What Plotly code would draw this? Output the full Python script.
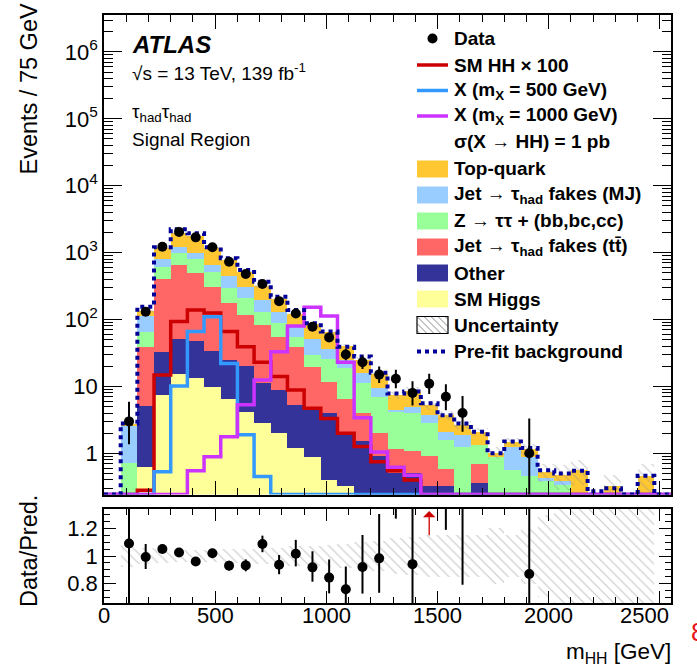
import numpy as np
import plotly.graph_objects as go

# ---------------- data (bins of 75 GeV from 0 to 2550 GeV) ----------------
bin_edges = np.arange(0, 2551, 75)

sm_higgs = [0, 0, 0.63, 7.4, 15.3, 13.2, 9.9, 6.5, 4.2, 2.8, 2.0, 1.19, 0.89, 0.4, 0.32, 0.2, 0.15,
            0.1, 0.05, 0.03, 0.02, 0, 0, 0, 0, 0, 0, 0, 0, 0, 0, 0, 0, 0]
other = [0, 0, 4.47, 25.6, 36.7, 34.8, 24.1, 18.3, 15.8, 8.6, 6.8, 4.1, 3.5, 3.6, 1.68, 1.3, 0.75,
         0.4, 0.45, 0.29, 0.3, 0.05, 0.36, 0, 0, 0, 0, 0, 0, 0, 0, 0, 0, 0]
fakes_tt = [0, 0, 33.9, 370, 601, 452, 269, 150, 97, 71.6, 46, 33.7, 15.3, 7.8, 4.4, 2.5, 1.1,
            0.66, 0.6, 0.59, 0.26, 0.05, 0.33, 0.25, 0, 0, 0, 0, 0, 0, 0, 0, 0, 0]
ztautau = [0, 0.71, 27, 213, 324, 294, 215, 118, 90, 48, 33, 16, 9.3, 14.2, 12.2, 7.4, 5.0,
           2.94, 2.95, 1.89, 1.0, 1.13, 0.64, 0.62, 0.56, 0.46, 0.38, 0.34, 0.05, 0, 0, 0, 0, 0]
fakes_mj = [0, 1.89, 46, 178, 223, 202, 135, 154, 102, 64, 43, 21, 22, 10, 6.4, 4.6, 2.4,
            0.4, 0.85, 0.9, 0.52, 0.65, 0.02, 0, 0.67, 0.41, 0.04, 0.04, 0, 0, 0, 0, 0, 0]
top_quark = [0, 0.15, 20, 372, 790, 764, 523, 339, 205, 117, 70, 45, 34, 28, 14.5, 9, 5.86,
             2.9, 3.6, 1.6, 1.6, 0.77, 0.75, 0.15, 0.26, 0.28, 0.11, 0.09, 0.51, 0.1, 0.32, 0.05, 0.46, 0]

data_obs = [0, 3, 131, 1225, 2040, 1690, 1200, 731, 479, 339, 188, 123, 78, 54, 30, 23, 15,
            13, 8, 11, 7, 4, 0, 0, 0, 1, 0, 0, 0, 0, 0, 0, 0, 0]
data_err_lo = [0, 1.63, 11.4, 35, 45.2, 41.1, 34.6, 27, 21.9, 18.4, 13.7, 11.1, 8.8, 7.3, 5.5, 4.8, 3.8,
               3.6, 2.8, 3.3, 2.6, 1.9, 0, 0, 0, 0.83, 0, 0, 0, 0, 0, 0, 0, 0]
data_err_hi = [0, 2.92, 12.5, 35.5, 45.7, 41.6, 35.1, 27.5, 22.4, 18.9, 14.2, 12.1, 9.9, 8.4, 6.5, 5.8, 4.9,
               4.7, 3.9, 4.4, 3.8, 3.2, 0, 0, 0, 2.3, 0, 0, 0, 0, 0, 0, 0, 0]

prefit_bkg = [0, 2.8, 155, 1200, 2230, 1945, 1200, 822, 550, 367, 219, 139, 88, 66, 39, 28, 16,
              7.8, 8.4, 5.6, 3.7, 2.8, 2.1, 1.0, 1.5, 1.2, 0.56, 0.5, 0.55, 0.27, 0.3, 0.2, 0.46, 0]

sig_smhh_x100 = [0, 0, 0.28, 14.8, 93, 139, 125, 66, 39, 23, 14, 8.8, 4.7, 3.3, 2.0, 1.26, 0.75,
                 0.55, 0.4, 0, 0, 0, 0, 0, 0, 0, 0, 0, 0, 0, 0, 0, 0, 0]
sig_x500 = [0, 0, 0, 0.53, 10.1, 66, 110, 22, 1.9, 0.45, 0.2, 0, 0, 0, 0, 0, 0,
            0, 0, 0, 0, 0, 0, 0, 0, 0, 0, 0, 0, 0, 0, 0, 0, 0]
sig_x1000 = [0, 0, 0, 0, 0, 0.55, 0.89, 1.77, 5.3, 12.5, 33, 80, 152, 113, 23, 3.4, 1.05,
             0.62, 0.47, 0, 0, 0, 0, 0, 0, 0, 0, 0, 0, 0, 0, 0, 0, 0]

rel_unc = [0, 0.08, 0.06, 0.05, 0.045, 0.045, 0.045, 0.05, 0.05, 0.055, 0.06, 0.07, 0.075, 0.08, 0.09, 0.1, 0.11,
           0.13, 0.14, 0.15, 0.15, 0.15, 0.15, 0.2, 0.15, 0.2, 0.3, 0.4, 0.4, 0.5, 0.5, 0.5, 0.5, 0]

main_ytick_vals = [1, 10, 100, 1e3, 1e4, 1e5, 1e6]
main_ytick_text = ["1", "10", "10<sup>2</sup>", "10<sup>3</sup>", "10<sup>4</sup>", "10<sup>5</sup>", "10<sup>6</sup>"]
ratio_ytick_vals = [0.8, 1.0, 1.2]
ratio_ytick_text = ["0.8", "1", "1.2"]
xtick_vals = [0, 500, 1000, 1500, 2000, 2500]
xtick_text = ["0", "500", "1000", "1500", "2000", "2500"]

legend_labels = ["Data", "SM HH \u00d7 100", "X (m<sub>X</sub> = 500 GeV)", "X (m<sub>X</sub> = 1000 GeV)",
                 "\u03c3(X \u2192 HH) = 1 pb", "Top-quark", "Jet \u2192 \u03c4<sub>had</sub> fakes (MJ)",
                 "Z \u2192 \u03c4\u03c4 + (bb,bc,cc)", "Jet \u2192 \u03c4<sub>had</sub> fakes (tt\u0304)",
                 "Other", "SM Higgs", "Uncertainty", "Pre-fit background"]

# ---------------- styling ----------------
FONT = "Liberation Sans, Arial, Helvetica, sans-serif"
W, H = 697, 665
ML, MR, MT, MB = 104, 26, 15, 62
PW, PH = W - ML - MR, H - MT - MB
Y_LOG_RANGE = [-0.616, 6.552]
R_RANGE = [0.66, 1.34]
YLO = 10 ** Y_LOG_RANGE[0]

C_HIGGS, C_OTHER, C_TT, C_Z, C_MJ, C_TOP = "#ffff99", "#333399", "#ff6666", "#99ff99", "#99ccff", "#ffc833"
C_SMHH, C_X500, C_X1000, C_PRE = "#cc0000", "#3399ff", "#cc33ff", "#000099"


def xp(px):
    return (px - ML) / PW


def yp(py):
    return (H - MB - py) / PH


centers = 0.5 * (bin_edges[:-1] + bin_edges[1:])
bw = 75
fig = go.Figure()

# stacked background
FLOOR = 1e-3
base = np.full(len(centers), FLOOR)
for vals, col in [(sm_higgs, C_HIGGS), (other, C_OTHER), (fakes_tt, C_TT), (ztautau, C_Z),
                  (fakes_mj, C_MJ), (top_quark, C_TOP)]:
    v = np.array(vals, float)
    fig.add_trace(go.Bar(x=centers, y=v, base=base.copy(), width=bw, xaxis="x", yaxis="y",
                         marker=dict(color=col, line=dict(width=0)), showlegend=False, hoverinfo="skip"))
    base = base + v
total = base - FLOOR
unc = np.array(rel_unc, float)
m = total > 0

HATCH = dict(shape="\\", fgcolor="#8c8c8c", bgcolor="rgba(0,0,0,0)", size=7, solidity=0.15)
# uncertainty hatch (main)
fig.add_trace(go.Bar(x=centers[m], y=2 * total[m] * unc[m], base=total[m] * (1 - unc[m]), width=bw,
                     xaxis="x", yaxis="y",
                     marker=dict(color="rgba(0,0,0,0)", line=dict(width=0), pattern=HATCH),
                     showlegend=False, hoverinfo="skip"))


def step(vals):
    v = np.array(vals, float)
    return bin_edges, np.maximum(np.append(v, v[-1]), YLO)


for vals, col in [(sig_smhh_x100, C_SMHH), (sig_x500, C_X500), (sig_x1000, C_X1000)]:
    sx, sy = step(vals)
    fig.add_trace(go.Scatter(x=sx, y=sy, mode="lines", line=dict(color=col, width=3.5, shape="hv"),
                             xaxis="x", yaxis="y", showlegend=False, hoverinfo="skip"))

sx, sy = step(prefit_bkg)
fig.add_trace(go.Scatter(x=sx, y=sy, mode="lines", line=dict(color=C_PRE, width=4, shape="hv", dash="4px,4px"),
                         xaxis="x", yaxis="y", showlegend=False, hoverinfo="skip"))

d = np.array(data_obs, float)
elo = np.array(data_err_lo, float)
ehi = np.array(data_err_hi, float)
md = d > 0
fig.add_trace(go.Scatter(x=centers[md], y=d[md], mode="markers", xaxis="x", yaxis="y",
                         marker=dict(color="black", size=10),
                         error_y=dict(type="data", symmetric=False, array=ehi[md], arrayminus=elo[md],
                                      color="black", thickness=2, width=0),
                         showlegend=False, hoverinfo="skip"))

# ratio panel
fig.add_trace(go.Bar(x=centers[m], y=2 * unc[m], base=1 - unc[m], width=bw, xaxis="x2", yaxis="y2",
                     marker=dict(color="rgba(0,0,0,0)", line=dict(width=0), pattern=HATCH),
                     showlegend=False, hoverinfo="skip"))
mr = md & m
ratio = d[mr] / total[mr]
fig.add_trace(go.Scatter(x=centers[mr], y=ratio, mode="markers", xaxis="x2", yaxis="y2",
                         marker=dict(color="black", size=10),
                         error_y=dict(type="data", symmetric=False, array=ehi[mr] / total[mr],
                                      arrayminus=elo[mr] / total[mr], color="black", thickness=2, width=0),
                         showlegend=False, hoverinfo="skip"))

annotations = []
# red arrows for points whose whole error bar is above the ratio range
for xc, lo in zip(centers[mr], (d[mr] - elo[mr]) / total[mr]):
    if lo > R_RANGE[1]:
        annotations.append(dict(x=xc, y=1.325, ax=xc, ay=1.14, xref="x2", yref="y2", axref="x2", ayref="y2",
                                text="", showarrow=True, arrowhead=1, arrowsize=1.6, arrowwidth=1.3,
                                arrowcolor="#cc0000"))

# ---------------- axes ----------------
axis_common = dict(showline=True, linecolor="black", linewidth=1.5, mirror="allticks", ticks="inside",
                   tickcolor="black", showgrid=False, zeroline=False,
                   tickfont=dict(family=FONT, size=22, color="black"))
main_bottom = (H - MB - 494.5) / PH
ratio_top = (H - MB - 509) / PH

minor_log = [k * 10 ** e for e in range(-1, 7) for k in range(2, 10)
             if 10 ** Y_LOG_RANGE[0] <= k * 10 ** e <= 10 ** Y_LOG_RANGE[1]]

fig.update_layout(
    width=W, height=H, autosize=False,
    margin=dict(l=ML, r=MR, t=MT, b=MB),
    paper_bgcolor="white", plot_bgcolor="white",
    barmode="overlay", bargap=0,
    showlegend=False,
    xaxis=dict(domain=[0, 1], anchor="y", range=[0, 2550], tickvals=xtick_vals, showticklabels=False,
               ticklen=14, minor=dict(dtick=100, tick0=0, ticklen=7, ticks="inside", tickcolor="black"),
               **axis_common),
    yaxis=dict(domain=[main_bottom, 1], anchor="x", type="log", range=Y_LOG_RANGE,
               tickvals=main_ytick_vals, ticktext=main_ytick_text, ticklen=18,
               minor=dict(tickvals=minor_log, ticklen=9, ticks="inside", tickcolor="black"),
               **axis_common),
    xaxis2=dict(domain=[0, 1], anchor="y2", range=[0, 2550], tickvals=xtick_vals, showticklabels=False,
                ticklen=12, minor=dict(dtick=100, tick0=0, ticklen=6, ticks="inside", tickcolor="black"),
                **axis_common),
    yaxis2=dict(domain=[0, ratio_top], anchor="x2", range=R_RANGE, tickvals=ratio_ytick_vals,
                ticktext=ratio_ytick_text, ticklen=12,
                minor=dict(dtick=0.05, tick0=0, ticklen=6, ticks="inside", tickcolor="black"),
                **axis_common),
)


def txt(text, x, y, size=19, xanchor="left", yanchor="middle", angle=0, color="black"):
    annotations.append(dict(text=text, x=xp(x), y=yp(y), xref="paper", yref="paper", showarrow=False,
                            xanchor=xanchor, yanchor=yanchor, textangle=angle,
                            font=dict(family=FONT, size=size, color=color)))


# x tick labels of the ratio panel (placed through the x2 data scale)
for i, (v, t) in enumerate(zip(xtick_vals, xtick_text)):
    last = i == len(xtick_vals) - 1
    annotations.append(dict(text=t, x=v if not last else 2550, xref="x2", y=yp(615), yref="paper",
                            showarrow=False, xanchor="right" if last else "center", yanchor="middle",
                            font=dict(family=FONT, size=22, color="black")))

txt("<b><i>ATLAS</i></b>", 130, 45, size=24)
txt("\u221as = 13 TeV, 139 fb<sup>-1</sup>", 130, 72)
txt("\u03c4<sub>had</sub>\u03c4<sub>had</sub>", 130, 113)
txt("Signal Region", 130, 140)
txt("Events / 75 GeV", 29, 2, size=23.5, xanchor="center", yanchor="top", angle=-90)
txt("Data/Pred.", 29, 551, size=23.5, xanchor="center", yanchor="middle", angle=-90)
txt("m<sub>HH</sub> [GeV]", 673, 653, size=22.5, xanchor="right")
txt("8", 689, 632, size=26, color="#e8141b")

# ---------------- legend (drawn) ----------------
shapes = []
LX0, LX1, LTX = 417, 448, 452
rows = [38.5, 65, 90.5, 116, 142, 169, 195, 221, 247, 273, 299, 325, 351.5]


def pshape(**kw):
    kw.update(xref="paper", yref="paper")
    shapes.append(kw)


pshape(type="circle", x0=xp(432.5 - 5), x1=xp(432.5 + 5), y0=yp(rows[0] + 5), y1=yp(rows[0] - 5),
       fillcolor="black", line=dict(width=0))
for r, col in zip(rows[1:4], [C_SMHH, C_X500, C_X1000]):
    pshape(type="line", x0=xp(LX0), x1=xp(LX1), y0=yp(r), y1=yp(r), line=dict(color=col, width=3.5))
for r, col in zip(rows[5:11], [C_TOP, C_MJ, C_Z, C_TT, C_OTHER, C_HIGGS]):
    pshape(type="rect", x0=xp(LX0), x1=xp(LX1), y0=yp(r + 8.5), y1=yp(r - 8.5), fillcolor=col,
           line=dict(width=0))
ru = rows[11]
by0, by1 = ru - 8.5, ru + 8.5
for k in range(-3, 6):
    xa = LX0 + k * 7
    x_start, y_start = xa, by0
    x_end, y_end = xa + 17, by1
    if x_start < LX0:
        y_start += LX0 - x_start
        x_start = LX0
    if x_end > LX1:
        y_end -= x_end - LX1
        x_end = LX1
    if x_end > x_start:
        pshape(type="line", x0=xp(x_start), x1=xp(x_end), y0=yp(y_start), y1=yp(y_end),
               line=dict(color="#8c8c8c", width=1))
pshape(type="rect", x0=xp(LX0), x1=xp(LX1), y0=yp(by1), y1=yp(by0), line=dict(color="black", width=1.2),
       fillcolor="rgba(0,0,0,0)")
pshape(type="line", x0=xp(LX0), x1=xp(LX1), y0=yp(rows[12]), y1=yp(rows[12]),
       line=dict(color=C_PRE, width=4, dash="4px,4px"))

for r, lab in zip(rows, legend_labels):
    txt("<b>" + lab + "</b>", LTX, r, size=19)

fig.update_layout(annotations=annotations, shapes=shapes)
fig.write_html("out.html", config={"displayModeBar": False},
               post_script="document.body.style.margin='0';document.body.style.padding='0';")
